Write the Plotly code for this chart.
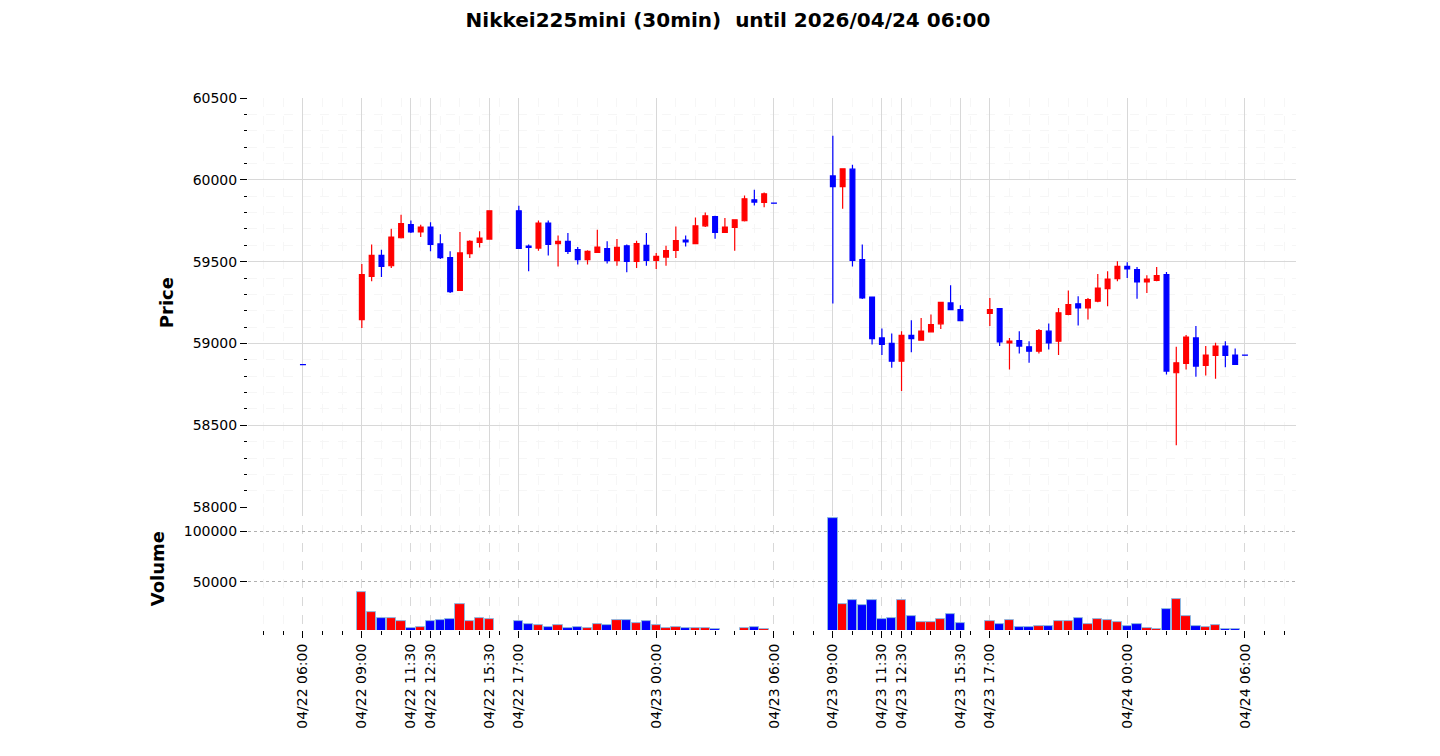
import pandas as pd
import plotly.graph_objects as go
from plotly.subplots import make_subplots

# sessions: (start, number of 30min bars)
sessions = [("2026-04-22 06:00", 1), ("2026-04-22 09:00", 14), ("2026-04-22 17:00", 27),
            ("2026-04-23 09:00", 14), ("2026-04-23 17:00", 27)]

opens = [58871,
         59146, 59410, 59538, 59475, 59646, 59726, 59681, 59711, 59608, 59524, 59325, 59549, 59618, 59638,
         59811, 59595, 59583, 59736, 59610, 59624, 59573, 59512, 59557, 59579, 59506, 59597, 59502, 59599,
         59508, 59528, 59569, 59632, 59610, 59719, 59776, 59679, 59709, 59750, 59878, 59862, 59858,
         60024, 59959, 60065, 59512, 59284, 59034, 59000, 58892, 59049, 59020, 59071, 59120, 59248, 59207,
         59183, 59213, 59004, 59018, 58980, 58953, 59075, 59014, 59177, 59242, 59217, 59258, 59335, 59396,
         59471, 59451, 59376, 59386, 59421, 58821, 58878, 59034, 58866, 58927, 58984, 58929, 58929]
closes = [58870,
          59421, 59538, 59471, 59650, 59732, 59681, 59711, 59606, 59524, 59317, 59553, 59624, 59644, 59811,
          59581, 59587, 59736, 59606, 59624, 59563, 59512, 59563, 59589, 59506, 59587, 59502, 59610, 59508,
          59532, 59567, 59628, 59620, 59719, 59780, 59679, 59711, 59756, 59884, 59864, 59915, 59857,
          59959, 60067, 59508, 59278, 59030, 58994, 58892, 59049, 59030, 59075, 59116, 59252, 59207, 59140,
          59207, 59010, 59014, 58984, 58953, 59079, 59004, 59187, 59238, 59217, 59268, 59339, 59394, 59471,
          59455, 59376, 59394, 59415, 58831, 58882, 59039, 58862, 58929, 58984, 58927, 58872, 58928]
highs = [58871,
         59486, 59604, 59573, 59701, 59787, 59752, 59726, 59740, 59667, 59563, 59681, 59630, 59685, 59811,
         59841, 59604, 59752, 59752, 59660, 59675, 59589, 59569, 59695, 59624, 59638, 59604, 59628, 59675,
         59553, 59597, 59715, 59660, 59770, 59801, 59780, 59766, 59756, 59904, 59939, 59923, 59858,
         60270, 60071, 60092, 59604, 59284, 59091, 59061, 59075, 59142, 59156, 59177, 59252, 59356, 59234,
         59278, 59213, 59034, 59075, 59014, 59089, 59122, 59217, 59323, 59288, 59278, 59425, 59441, 59502,
         59496, 59467, 59417, 59467, 59437, 58980, 59051, 59106, 58984, 59004, 59014, 58969, 58929]
lows = [58870,
        59095, 59380, 59406, 59461, 59642, 59675, 59650, 59563, 59516, 59309, 59321, 59522, 59587, 59638,
        59581, 59441, 59567, 59538, 59471, 59547, 59482, 59482, 59553, 59488, 59475, 59435, 59461, 59475,
        59455, 59475, 59522, 59593, 59610, 59711, 59640, 59675, 59567, 59746, 59843, 59833, 59857,
        59244, 59823, 59471, 59272, 58994, 58929, 58851, 58709, 58947, 59020, 59085, 59089, 59203, 59136,
        59106, 58984, 58841, 58939, 58882, 58939, 58963, 58929, 59173, 59110, 59146, 59252, 59228, 59380,
        59400, 59274, 59309, 59380, 58811, 58378, 58841, 58797, 58805, 58784, 58855, 58872, 58928]
volumes = [0,
           40000, 20500, 14400, 14400, 11100, 4000, 5400, 11100, 12100, 13400, 28200, 11100, 14400, 13400,
           11100, 8400, 7400, 5400, 7400, 4000, 5400, 4000, 8400, 7400, 12100, 12100, 9400, 11100,
           7400, 4000, 5400, 4000, 4000, 4000, 3000, 0, 0, 4000, 5400, 3000, 0,
           112900, 28200, 31600, 26900, 31600, 13400, 14400, 31600, 15800, 10100, 10100, 13400, 17800, 8700,
           11100, 8400, 12100, 5400, 5400, 6400, 6400, 11100, 11100, 14400, 8400, 13400, 12100, 10100,
           6400, 8400, 4000, 3000, 22500, 32600, 15800, 6400, 5400, 7400, 3700, 3000, 0]

tick_labels = ["04/22 06:00", "04/22 09:00", "04/22 11:30", "04/22 12:30", "04/22 15:30", "04/22 17:00",
               "04/23 00:00", "04/23 06:00", "04/23 09:00", "04/23 11:30", "04/23 12:30", "04/23 15:30",
               "04/23 17:00", "04/24 00:00", "04/24 06:00"]

times = []
for start, n in sessions:
    times += list(pd.date_range(start, periods=n, freq="30min"))
tick_vals = [pd.Timestamp("2026/" + t) for t in tick_labels]

UP, DOWN = "#ff0000", "#0000ff"
bar_colors = [UP if c > o else DOWN for o, c in zip(opens, closes)]

fig = make_subplots(rows=2, cols=1, shared_xaxes=True, vertical_spacing=0,
                    row_heights=[0.769, 0.231])
fig.add_trace(go.Candlestick(
    x=times, open=opens, high=highs, low=lows, close=closes,
    increasing=dict(line=dict(color=UP, width=1.2), fillcolor=UP),
    decreasing=dict(line=dict(color=DOWN, width=1.2), fillcolor=DOWN),
    whiskerwidth=0, showlegend=False, hoverinfo="skip"), row=1, col=1)
fig.add_trace(go.Bar(
    x=times, y=volumes, width=30 * 60 * 1000 * 0.95, base=0,
    marker=dict(color=bar_colors, line=dict(color="#8fb8e0", width=1)),
    showlegend=False), row=2, col=1)

font = "DejaVu Sans"
xr = [pd.Timestamp("2026-04-22 06:00") - pd.Timedelta(minutes=168),
      pd.Timestamp("2026-04-24 06:00") + pd.Timedelta(minutes=156)]
# page body has an 8px margin, so shift the plot box up/left by 8px
fig.update_layout(
    width=1440, height=756, paper_bgcolor="white", plot_bgcolor="white",
    margin=dict(l=240, r=152, t=90, b=134, autoexpand=False),
    font=dict(family=font, size=14, color="black"),
    title=dict(text="<b>Nikkei225mini (30min)  until 2026/04/24 06:00</b>", x=0.5, y=1 - 12 / 756,
               xanchor="center", yanchor="middle", font=dict(size=20)),
    bargap=0,
)
fig.update_xaxes(range=xr, showgrid=True, gridcolor="#d8d8d8", gridwidth=1, automargin=False,
                 tickvals=tick_vals, ticktext=tick_labels, showline=False, zeroline=False,
                 rangeslider=dict(visible=False),
                 minor=dict(dtick=3600000, showgrid=True, gridcolor="#f6f6f6", griddash="dash",
                            ticks="outside", ticklen=4, tickcolor="black"))
fig.update_xaxes(showticklabels=False, ticks="", row=1, col=1)
fig.update_xaxes(ticks="outside", ticklen=7, tickcolor="black", tickangle=-90,
                 tickfont=dict(size=14), griddash="dash", row=2, col=1)
fig.update_yaxes(range=[58000, 60500], dtick=500, tickformat="d", ticks="outside", ticklen=7,
                 tickcolor="black", automargin=False,
                 showgrid=True, gridcolor="#d8d8d8", zeroline=False, showline=False,
                 minor=dict(dtick=100, ticks="outside", ticklen=3, tickcolor="black",
                            showgrid=True, gridcolor="#f6f6f6", griddash="dash"),
                 title=dict(text="<b>Price</b>", font=dict(size=18), standoff=14), row=1, col=1)
fig.update_yaxes(range=[2350, 123600], tickvals=[50000, 100000], tickformat="d", ticks="outside",
                 ticklen=7, automargin=False,
                 tickcolor="black", showgrid=True, gridcolor="#b0b0b0", griddash="dot",
                 zeroline=False, showline=False,
                 title=dict(text="<b>Volume</b>", font=dict(size=18), standoff=14), row=2, col=1)

fig.write_html("out.html")
